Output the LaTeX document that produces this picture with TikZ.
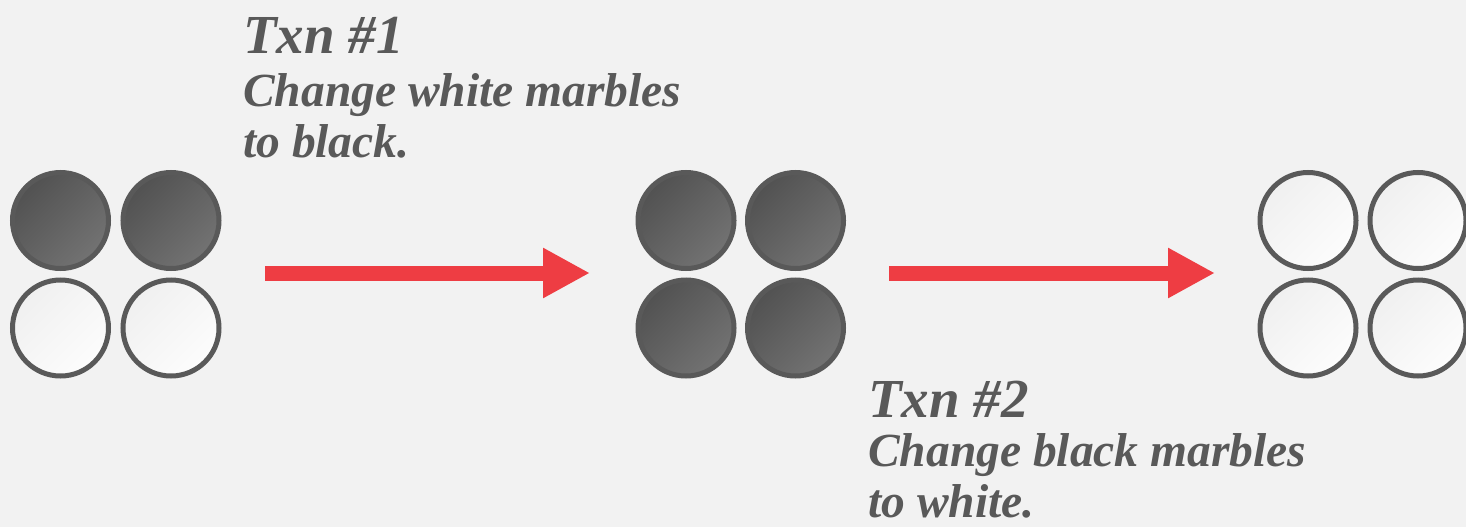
\documentclass[tikz,border=0pt]{standalone}
\usepackage{fontspec}
\setmainfont{Liberation Serif}
\usetikzlibrary{arrows.meta}
\definecolor{bg}{HTML}{F2F2F2}
\definecolor{ink}{HTML}{595959}
\definecolor{arrowred}{HTML}{EE3D43}
\tikzset{
  marble/.style={circle, minimum size=96pt, inner sep=0pt, line width=5pt, draw=ink},
  dark/.style={marble, top color=black!68, bottom color=black!55, shading angle=45},
  light/.style={marble, top color=black!6, bottom color=black!1, shading angle=45},
  title/.style={anchor=base west, inner sep=0pt, text=ink, font=\fontsize{55}{55}\selectfont\bfseries\itshape},
  body/.style={anchor=base west, inner sep=0pt, text=ink, font=\fontsize{47.5}{47.5}\selectfont\bfseries\itshape},
  bigarrow/.style={draw=arrowred, line width=15pt, -{Triangle[length=47pt,width=47pt]}}
}
\begin{document}
\begin{tikzpicture}[x=1pt,y=-1pt]
\fill[bg] (0,0) rectangle (1466,527);
\useasboundingbox (0,0) rectangle (1466,527);
% group 1
\node[dark]  (m1a) at (60.5,220.5) {};
\node[dark]  (m1b) at (171,220.5) {};
\node[light] (m1c) at (60.5,328) {};
\node[light] (m1d) at (171,328) {};
% group 2
\node[dark] (m2a) at (686,220.5) {};
\node[dark] (m2b) at (795.5,220.5) {};
\node[dark] (m2c) at (686,328) {};
\node[dark] (m2d) at (795.5,328) {};
% group 3
\node[light] (m3a) at (1308,220.5) {};
\node[light] (m3b) at (1418,220.5) {};
\node[light] (m3c) at (1308,328) {};
\node[light] (m3d) at (1418,328) {};
% arrows
\coordinate (a1s) at (265,273);
\coordinate (a1e) at (590,273);
\coordinate (a2s) at (889,273);
\coordinate (a2e) at (1215,273);
\draw[bigarrow] (a1s) -- (a1e);
\draw[bigarrow] (a2s) -- (a2e);
% labels
\node[title] (t1a) at (243,53) {Txn \#1};
\node[body]  (t1b) at (243,106) {Change white marbles};
\node[body]  (t1c) at (243,157) {to black.};
\node[title] (t2a) at (868,417) {Txn \#2};
\node[body]  (t2b) at (868,466) {Change black marbles};
\node[body]  (t2c) at (868,517) {to white.};
\end{tikzpicture}
\end{document}
